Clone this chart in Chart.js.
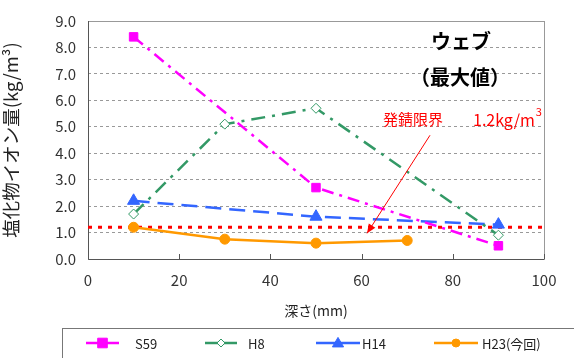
<!DOCTYPE html>
<html>
<head>
<meta charset="utf-8">
<script src="https://cdn.jsdelivr.net/npm/chart.js@4"></script>
<style>
  html, body { margin: 0; padding: 0; background: #fff; }
  #wrap { width: 574px; height: 358px; position: relative; }
</style>
</head>
<body>
<div id="wrap"><canvas id="c" width="574" height="358"></canvas></div>
<script>
// Depth (mm) and chloride content (kg/m3) per survey
const depthS59 = [10, 50, 90];
const valS59 = [8.4, 2.7, 0.5];
const depthH8 = [10, 30, 50, 90];
const valH8 = [1.7, 5.1, 5.7, 0.9];
const depthH14 = [10, 50, 90];
const valH14 = [2.2, 1.6, 1.3];
const depthH23 = [10, 30, 50, 70];
const valH23 = [1.2, 0.75, 0.6, 0.7];
const seriesNames = ['S59', 'H8', 'H14', 'H23(今回)'];
const rustLimit = 1.2;
const xTicks = [0, 20, 40, 60, 80, 100];
const yTicks = [0, 1, 2, 3, 4, 5, 6, 7, 8, 9];

const FONT = '"Noto Sans CJK JP", "Noto Sans", sans-serif';

function pts(xs, ys) { return xs.map((x, i) => ({ x: x, y: ys[i] })); }

const datasets = [
  { label: seriesNames[0], data: pts(depthS59, valS59), borderColor: '#FF00FF', backgroundColor: '#FF00FF',
    borderWidth: 2.5, borderDash: [12, 6, 3, 6], pointStyle: 'rect', pointRadius: 6, pointBorderWidth: 1 },
  { label: seriesNames[1], data: pts(depthH8, valH8), borderColor: '#339966', backgroundColor: '#ffffff',
    borderWidth: 2.5, borderDash: [14, 7, 3, 7], pointStyle: 'rectRot', pointRadius: 5, pointBorderWidth: 1 },
  { label: seriesNames[2], data: pts(depthH14, valH14), borderColor: '#3366FF', backgroundColor: '#3366FF',
    borderWidth: 2.5, borderDash: [16, 8], pointStyle: 'triangle', pointRadius: 7, pointBorderWidth: 1 },
  { label: seriesNames[3], data: pts(depthH23, valH23), borderColor: '#FF9900', backgroundColor: '#FF9900',
    borderWidth: 2.5, borderDash: [], pointStyle: 'circle', pointRadius: 5, pointBorderWidth: 1 },
  { label: 'limit', data: [{ x: 0, y: rustLimit }, { x: 100, y: rustLimit }], borderColor: '#FF0000',
    borderWidth: 3, borderDash: [4, 6], pointRadius: 0 }
];

// Frame, inner tick marks, labels, arrow and legend
const decor = {
  id: 'decor',
  beforeDatasetsDraw(chart) {
    const { ctx, chartArea: a, scales: { x } } = chart;
    ctx.save();
    ctx.strokeStyle = '#999';
    ctx.lineWidth = 1;
    ctx.strokeRect(a.left + 0.5, a.top + 0.5, a.right - a.left, a.bottom - a.top);
    ctx.strokeStyle = '#555';
    ctx.beginPath();
    ctx.moveTo(a.left + 0.5, a.top); ctx.lineTo(a.left + 0.5, a.bottom + 0.5);
    ctx.lineTo(a.right, a.bottom + 0.5);
    xTicks.forEach(t => {
      const px = Math.round(x.getPixelForValue(t)) + 0.5;
      ctx.moveTo(px, a.bottom); ctx.lineTo(px, a.bottom - 5);
    });
    ctx.stroke();
    ctx.restore();
  },
  afterDraw(chart) {
    const { ctx, scales: { x, y } } = chart;
    ctx.save();
    // heading
    ctx.fillStyle = '#000';
    ctx.font = 'bold 20px ' + FONT;
    ctx.textAlign = 'center';
    ctx.textBaseline = 'middle';
    ctx.fillText('ウェブ', 461, 41);
    ctx.fillText('（最大値）', 460, 77);
    // rust limit label
    ctx.fillStyle = '#FF0000';
    ctx.font = '15px ' + FONT;
    ctx.textAlign = 'left';
    ctx.fillText('発錆限界', 383, 119);
    ctx.font = '16px ' + FONT;
    const unit = '1.2kg/m';
    ctx.fillText(unit, 473, 120);
    const w = ctx.measureText(unit).width;
    ctx.font = '11px ' + FONT;
    ctx.fillText('3', 473 + w + 1, 112);
    // arrow
    const x0 = x.getPixelForValue(75), y0 = y.getPixelForValue(4.68);
    const x1 = x.getPixelForValue(61.2), y1 = y.getPixelForValue(0.97);
    ctx.strokeStyle = '#FF0000';
    ctx.lineWidth = 1;
    ctx.beginPath(); ctx.moveTo(x0, y0); ctx.lineTo(x1, y1); ctx.stroke();
    const ang = Math.atan2(y1 - y0, x1 - x0);
    ctx.beginPath();
    ctx.moveTo(x1, y1);
    ctx.lineTo(x1 - 10 * Math.cos(ang - 0.4), y1 - 10 * Math.sin(ang - 0.4));
    ctx.lineTo(x1 - 10 * Math.cos(ang + 0.4), y1 - 10 * Math.sin(ang + 0.4));
    ctx.closePath(); ctx.fill();
    // legend box
    ctx.strokeStyle = '#777';
    ctx.lineWidth = 1;
    ctx.strokeRect(62.5, 328.5, 530, 40);
    const items = [
      { ds: 0, x0: 86, x1: 119, tx: 135 },
      { ds: 1, x0: 205, x1: 237, tx: 248 },
      { ds: 2, x0: 316, x1: 360, tx: 362 },
      { ds: 3, x0: 434, x1: 478, tx: 482 }
    ];
    const ly = 343;
    items.forEach(it => {
      const d = chart.data.datasets[it.ds];
      ctx.strokeStyle = d.borderColor;
      ctx.lineWidth = 2.5;
      ctx.setLineDash([]);
      ctx.beginPath(); ctx.moveTo(it.x0, ly); ctx.lineTo(it.x1, ly); ctx.stroke();
      ctx.fillStyle = d.backgroundColor;
      ctx.lineWidth = 1;
      ctx.beginPath();
      const r = d.pointRadius * 0.8;
      const cx = (it.x0 + it.x1) / 2;
      if (d.pointStyle === 'rect') { ctx.rect(cx - r, ly - r, 2 * r, 2 * r); }
      else if (d.pointStyle === 'rectRot') { ctx.moveTo(cx, ly - r); ctx.lineTo(cx + r, ly); ctx.lineTo(cx, ly + r); ctx.lineTo(cx - r, ly); ctx.closePath(); }
      else if (d.pointStyle === 'triangle') { ctx.moveTo(cx, ly - r); ctx.lineTo(cx + r, ly + r * 0.7); ctx.lineTo(cx - r, ly + r * 0.7); ctx.closePath(); }
      else { ctx.arc(cx, ly, r, 0, Math.PI * 2); }
      ctx.fill(); ctx.stroke();
      ctx.fillStyle = '#222';
      ctx.font = '13px ' + FONT;
      ctx.textAlign = 'left';
      ctx.textBaseline = 'middle';
      ctx.fillText(d.label, it.tx, ly + 1);
    });
    ctx.restore();
  }
};

new Chart(document.getElementById('c'), {
  type: 'scatter',
  data: { datasets: datasets.map(d => Object.assign({ showLine: true, fill: false, tension: 0 }, d)) },
  options: {
    responsive: false,
    animation: false,
    events: [],
    layout: { padding: { top: 17, right: 30, bottom: 39, left: 0 } },
    plugins: { legend: { display: false }, tooltip: { enabled: false } },
    scales: {
      x: {
        type: 'linear', min: 0, max: 100,
        afterBuildTicks: s => { s.ticks = xTicks.map(v => ({ value: v })); },
        afterFit: s => { s.height = 60; },
        grid: { display: false, drawTicks: false },
        border: { display: false },
        ticks: { color: '#333', font: { family: FONT, size: 15 }, padding: 12, callback: v => String(v) },
        title: { display: true, text: '深さ(mm)', color: '#222', font: { family: FONT, size: 14 }, padding: { top: 4, bottom: 0 } }
      },
      y: {
        min: 0, max: 9,
        afterBuildTicks: s => { s.ticks = yTicks.map(v => ({ value: v })); },
        afterFit: s => { s.width = 88; },
        grid: {
          color: c => (c.tick.value === 0 || c.tick.value === 9) ? 'rgba(0,0,0,0)' : '#999',
          lineWidth: 1, drawTicks: false
        },
        border: { display: false, dash: [3, 3] },
        ticks: { color: '#333', font: { family: FONT, size: 15 }, padding: 12, callback: v => v.toFixed(1) },
        title: { display: true, text: '塩化物イオン量(kg/m³)', color: '#222', font: { family: FONT, size: 18.5 }, padding: { top: 0, bottom: 3 } }
      }
    }
  },
  plugins: [decor]
});
</script>
</body>
</html>
